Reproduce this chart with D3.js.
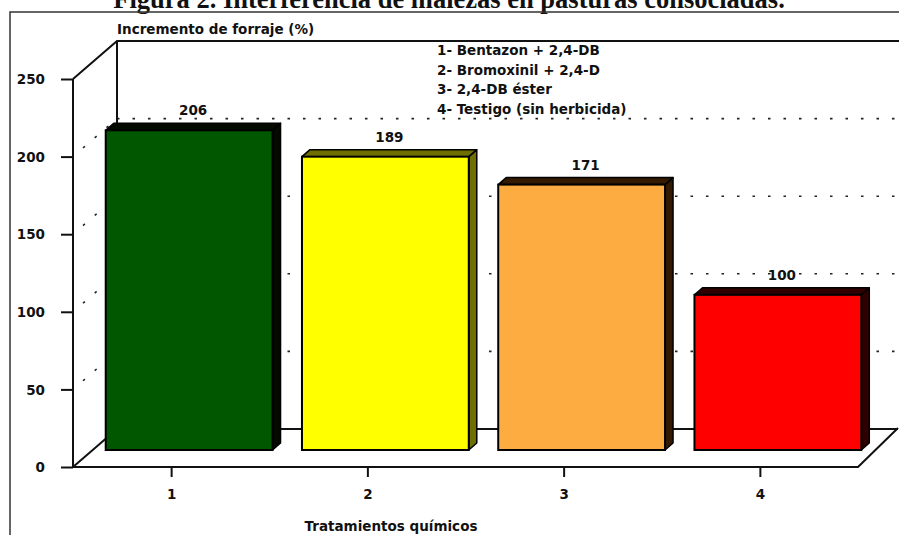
<!DOCTYPE html>
<html>
<head>
<meta charset="utf-8">
<script src="https://cdn.jsdelivr.net/npm/d3@7"></script>
<style>
  html, body { margin: 0; padding: 0; background: #fff; }
  svg { display: block; }
  .lab { font-family: "DejaVu Sans", sans-serif; font-weight: bold; font-size: 13.5px; fill: #111; }
</style>
</head>
<body>
<svg id="chart" width="899" height="535"></svg>
<script>
// Data
const categories = ["1", "2", "3", "4"];
const values = [206, 189, 171, 100];
const yTicks = [0, 50, 100, 150, 200, 250];
const treatments = [
  "1- Bentazon + 2,4-DB",
  "2- Bromoxinil + 2,4-D",
  "3- 2,4-DB éster",
  "4- Testigo (sin herbicida)"
];
const barColors = ["#005700", "#ffff00", "#fdac42", "#ff0000"];
const barShades = ["#050a00", "#6f6f00", "#331a00", "#300000"];

const svg = d3.select("#chart");

// Plot box geometry (front plane + depth offset of the back wall)
const plotLeft = 73, plotRight = 858, plotBottom = 467, plotTop = 79;
const depthX = 44, depthY = 38;
const barShiftX = 18, barShiftY = 17;   // bar front face sits inside the box
const barDepthX = 8, barDepthY = 7;

const y = d3.scaleLinear().domain([0, 250]).range([plotBottom, plotTop]);
const x = d3.scalePoint().domain(categories).range([plotLeft, plotRight]).padding(0.5);
const barW = x.step() * 0.85;

// Title (runs above the frame's top edge)
svg.append("text")
  .attr("x", 449).attr("y", 8)
  .attr("text-anchor", "middle")
  .style("font-family", "'Liberation Serif', 'Times New Roman', serif")
  .style("font-weight", "bold")
  .style("font-size", "26.5px")
  .attr("fill", "#111")
  .text("Figura 2. Interferencia de malezas en pasturas consociadas.");

// Outer frame
svg.append("path")
  .attr("d", "M10,540 L10,12 L899,12")
  .attr("fill", "none").attr("stroke", "#333").attr("stroke-width", 1.5);

// Dotted gridlines on the back wall and the left side wall
const grid = yTicks.filter(v => v > 0 && v < 250);
svg.append("g").selectAll("line").data(grid).join("line")
  .attr("x1", plotLeft + depthX).attr("x2", 898)
  .attr("y1", d => y(d) - depthY).attr("y2", d => y(d) - depthY)
  .attr("stroke", "#222").attr("stroke-width", 1.6)
  .attr("stroke-dasharray", "2.5 13");
svg.append("g").selectAll("line").data(grid).join("line")
  .attr("x1", plotLeft + 10).attr("y1", d => y(d) - 10 * depthY / depthX)
  .attr("x2", plotLeft + depthX).attr("y2", d => y(d) - depthY)
  .attr("stroke", "#222").attr("stroke-width", 1.6)
  .attr("stroke-dasharray", "2.5 13");

// Box edges: back wall, floor, side wall
const edge = svg.append("g").attr("fill", "none").attr("stroke", "#111").attr("stroke-width", 2);
edge.append("path").attr("d",
  `M${plotLeft},${y(250)} L${plotLeft + depthX},${y(250) - depthY} L899,${y(250) - depthY}`);
edge.append("path").attr("d",
  `M${plotLeft + depthX},${y(250) - depthY} L${plotLeft + depthX},${y(0) - depthY} L898,${y(0) - depthY}`);
edge.append("path").attr("d",
  `M${plotLeft},${y(0)} L${plotLeft + depthX},${y(0) - depthY}`);
edge.append("path").attr("d",
  `M${plotLeft},${y(0)} L${plotRight},${y(0)} L${plotRight + 40},${y(0) - depthY - 1}`);
edge.append("path").attr("d", `M${plotLeft},${y(0)} L${plotLeft},${y(250)}`);

// Y axis ticks and labels
const yAxis = svg.append("g")
  .attr("transform", `translate(${plotLeft},0)`)
  .call(d3.axisLeft(y).tickValues(yTicks).tickSize(12).tickPadding(16));
yAxis.select(".domain").remove();
yAxis.selectAll("line").attr("stroke", "#111").attr("stroke-width", 2);
yAxis.selectAll("text").attr("class", "lab").attr("dy", "0.35em");

// X axis ticks and labels
const xAxis = svg.append("g")
  .attr("transform", `translate(0,${plotBottom})`)
  .call(d3.axisBottom(x).tickSize(10).tickPadding(12));
xAxis.select(".domain").remove();
xAxis.selectAll("line").attr("stroke", "#111").attr("stroke-width", 2);
xAxis.selectAll("text").attr("class", "lab");

// Bars (side face, top face, front face) with value labels
const bars = svg.append("g").selectAll("g").data(values).join("g");
bars.each(function (v, i) {
  const g = d3.select(this);
  const x0 = x(categories[i]) - barW / 2 + barShiftX;
  const x1 = x0 + barW;
  const yt = y(v) - barShiftY;
  const yb = y(0) - barShiftY;
  g.append("path")
    .attr("d", `M${x1},${yt} L${x1 + barDepthX},${yt - barDepthY} L${x1 + barDepthX},${yb - barDepthY} L${x1},${yb} Z`)
    .attr("fill", barShades[i]).attr("stroke", "#000").attr("stroke-width", 1.5).attr("stroke-linejoin", "round");
  g.append("path")
    .attr("d", `M${x0},${yt} L${x0 + barDepthX},${yt - barDepthY} L${x1 + barDepthX},${yt - barDepthY} L${x1},${yt} Z`)
    .attr("fill", barShades[i]).attr("stroke", "#000").attr("stroke-width", 1.5).attr("stroke-linejoin", "round");
  g.append("rect")
    .attr("x", x0).attr("y", yt).attr("width", barW).attr("height", yb - yt)
    .attr("fill", barColors[i]).attr("stroke", "#000").attr("stroke-width", 2);
  g.append("text")
    .attr("class", "lab")
    .attr("x", (x0 + x1) / 2 + barDepthX / 2)
    .attr("y", yt - barDepthY - 8)
    .attr("text-anchor", "middle")
    .text(v);
});

// Axis titles
svg.append("text").attr("class", "lab")
  .attr("x", plotLeft + depthX).attr("y", 34)
  .text("Incremento de forraje (%)");
svg.append("text").attr("class", "lab")
  .attr("x", 391).attr("y", 531).attr("text-anchor", "middle")
  .text("Tratamientos químicos");

// Treatment key
svg.append("g").selectAll("text").data(treatments).join("text")
  .attr("class", "lab")
  .attr("x", 437)
  .attr("y", (d, i) => 55 + i * 19.5)
  .text(d => d);
</script>
</body>
</html>
